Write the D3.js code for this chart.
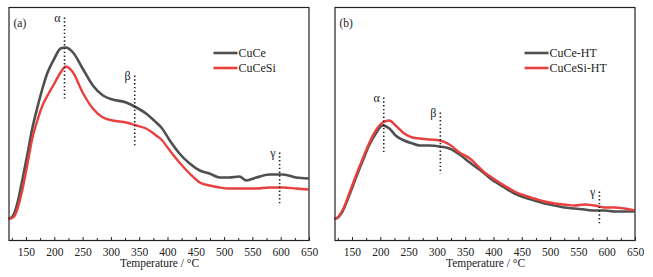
<!DOCTYPE html>
<html>
<head>
<meta charset="utf-8">
<script src="https://cdn.jsdelivr.net/npm/d3@7"></script>
<style>
  body { margin: 0; background: #fff; }
  text { font-family: "Liberation Serif", "Times New Roman", serif; fill: #222; }
</style>
</head>
<body>
<div id="chart"></div>
<script>
// temperatures (°C) and signal (a.u.)
var tempA = [120, 124, 130, 136, 145, 154, 162, 171, 180, 189, 201, 212, 221, 234, 251, 269, 287, 304, 328, 346, 363, 381, 390, 405, 422, 440, 458, 475, 493, 510, 528, 540, 558, 581, 605, 628, 650];
var cuCe = [22, 22.5, 27, 38, 62, 88, 112, 133, 152, 168, 182, 192, 193, 188, 172, 155, 145, 141, 138, 133, 127, 118, 113, 100, 87, 77, 70, 67, 63, 63, 64, 60, 63, 66, 66, 63, 62];
var cuCeSi = [22, 22, 24, 32, 52, 78, 102, 120, 135, 145, 157, 168, 174, 168, 148, 132, 123, 120, 118, 115, 112, 105, 101, 90, 78, 67, 58, 55, 53, 52, 52, 52, 52, 53, 53, 52, 51];

var tempB = [120, 122, 134, 146, 158, 170, 181, 193, 205, 217, 228, 243, 258, 270, 288, 306, 323, 341, 359, 376, 385, 393, 403, 420, 438, 456, 473, 491, 509, 526, 544, 562, 579, 597, 615, 632, 650];
var cuCeHT = [22, 22, 29, 45, 63, 80, 95, 107, 115, 112, 105, 100, 97, 95, 95, 94, 92, 86, 78, 71, 67, 63, 59, 53, 47, 43, 40, 37, 35, 33, 32, 31, 30, 30, 29, 29, 29];
var cuCeSiHT = [22, 22, 30, 47, 65, 82, 97, 110, 118, 120, 115, 107, 103, 102, 101, 100, 96, 88, 82, 73, 68, 65, 61, 55, 49, 45, 42, 39, 37, 36, 35, 36, 35, 33, 33, 32, 30];

var xTicks = [150, 200, 250, 300, 350, 400, 450, 500, 550, 600, 650];
var minorTicks = [125, 175, 225, 275, 325, 375, 425, 475, 525, 575, 625];

// peak markers: [label, temperature, top signal, bottom signal]
var peaksA = [["α", 219, 223, 142], ["β", 343, 165, 95], ["γ", 599, 88, 37]];
var peaksB = [["α", 207, 143, 87], ["β", 307, 128, 67], ["γ", 588, 49, 17]];

var grey = "#4f4f4f", red = "#e8403f";

var svg = d3.select("#chart").append("svg")
    .attr("width", 653)
    .attr("height", 277);

var y = d3.scaleLinear().domain([0, 233]).range([240.5, 7.5]);

function drawPanel(left, tag, temps, s1, s2, names, peaks, legendX) {
    var x = d3.scaleLinear().domain([120, 650]).range([0, 300]);
    var g = svg.append("g").attr("transform", "translate(" + left + ",0)");

    var line = d3.line()
        .x(function (d) { return x(d[0]); })
        .y(function (d) { return y(d[1]); })
        .curve(d3.curveMonotoneX);

    g.append("path")
        .datum(d3.zip(temps, s1))
        .attr("d", line)
        .attr("fill", "none")
        .attr("stroke", grey)
        .attr("stroke-width", 2.6);
    g.append("path")
        .datum(d3.zip(temps, s2))
        .attr("d", line)
        .attr("fill", "none")
        .attr("stroke", red)
        .attr("stroke-width", 2.4);

    // frame
    g.append("rect")
        .attr("x", 0.5).attr("y", 7.5)
        .attr("width", 300).attr("height", 233)
        .attr("fill", "none")
        .attr("stroke", "#222")
        .attr("stroke-width", 1.2);

    // inward ticks on the bottom edge
    var axis = g.append("g").attr("transform", "translate(0.5,240.5)");
    axis.call(d3.axisBottom(x).tickValues(xTicks).tickSize(-3.5).tickPadding(7))
        .call(function (a) { a.select(".domain").remove(); });
    axis.append("g").call(d3.axisBottom(x).tickValues(minorTicks).tickSize(-2.5).tickFormat(""))
        .call(function (a) { a.select(".domain").remove(); });
    axis.selectAll("line").attr("stroke", "#222");
    axis.selectAll("text")
        .style("font-family", "Liberation Serif, serif")
        .style("font-size", "11.5px")
        .attr("fill", "#222");

    g.append("text")
        .attr("x", 151).attr("y", 267)
        .attr("text-anchor", "middle")
        .style("font-size", "11.5px")
        .text("Temperature / °C");

    g.append("text")
        .attr("x", 5).attr("y", 27)
        .style("font-size", "11.5px")
        .text(tag);

    // peak markers
    peaks.forEach(function (p) {
        g.append("line")
            .attr("x1", x(p[1])).attr("x2", x(p[1]))
            .attr("y1", y(p[2])).attr("y2", y(p[3]))
            .attr("stroke", "#222")
            .attr("stroke-width", 1.6)
            .attr("stroke-dasharray", "1.4,2.4");
        g.append("text")
            .attr("x", x(p[1]) - 4).attr("y", y(p[2]) + 4)
            .attr("text-anchor", "end")
            .style("font-size", "12px")
            .text(p[0]);
    });

    // legend
    [[names[0], grey], [names[1], red]].forEach(function (d, i) {
        var ly = 53 + i * 15;
        g.append("line")
            .attr("x1", legendX).attr("x2", legendX + 24)
            .attr("y1", ly).attr("y2", ly)
            .attr("stroke", d[1])
            .attr("stroke-width", 2.6);
        g.append("text")
            .attr("x", legendX + 25).attr("y", ly + 4)
            .style("font-size", "12px")
            .text(d[0]);
    });
}

drawPanel(8.5, "(a)", tempA, cuCe, cuCeSi, ["CuCe", "CuCeSi"], peaksA, 205);
drawPanel(334.5, "(b)", tempB, cuCeHT, cuCeSiHT, ["CuCe-HT", "CuCeSi-HT"], peaksB, 190);
</script>
</body>
</html>
